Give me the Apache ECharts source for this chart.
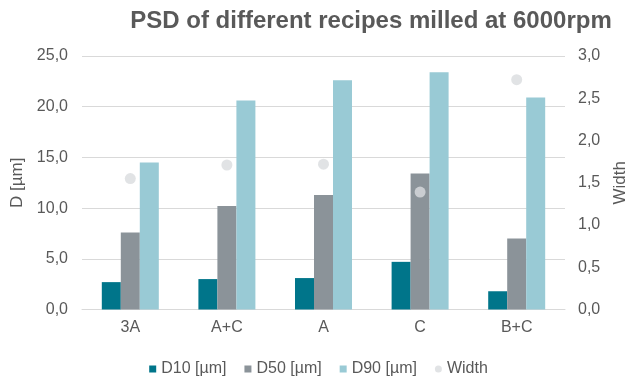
<!DOCTYPE html>
<html>
<head>
<meta charset="utf-8">
<script src="https://cdn.jsdelivr.net/npm/echarts@6/dist/echarts.min.js"></script>
<style>
  html, body { margin: 0; padding: 0; background: #fff; }
  #chart { width: 637px; height: 378px; }
</style>
</head>
<body>
<div id="chart"></div>
<script>
// Recipes milled at 6000 rpm
const categories = ['3A', 'A+C', 'A', 'C', 'B+C'];
const d10 = [2.7, 3.0, 3.1, 4.7, 1.8];
const d50 = [7.6, 10.2, 11.3, 13.4, 7.0];
const d90 = [14.5, 20.6, 22.6, 23.4, 20.9];
const width = [1.55, 1.71, 1.72, 1.39, 2.72];

const leftTicks = { min: 0, max: 25, interval: 5 };
const rightTicks = { min: 0, max: 3, interval: 0.5 };

const textColor = '#595959';
const fontFamily = '"Liberation Sans", Arial, sans-serif';
const comma = v => v.toFixed(1).replace('.', ',');

const chart = echarts.init(document.getElementById('chart'), null, { renderer: 'canvas' });

chart.setOption({
  animation: false,
  textStyle: { fontFamily: fontFamily },
  title: {
    text: 'PSD of different recipes milled at 6000rpm',
    left: 366,
    textAlign: 'center',
    top: 4,
    textStyle: { fontSize: 24, fontWeight: 'bold', color: textColor, fontFamily: fontFamily }
  },
  grid: { left: 82, right: 67, top: 56, bottom: 68.5 },
  legend: {
    top: 356,
    left: 'center',
    itemWidth: 7,
    itemHeight: 7,
    itemGap: 18,
    textStyle: { fontSize: 16, color: textColor, fontFamily: fontFamily },
    data: [
      { name: 'D10 [µm]', icon: 'rect' },
      { name: 'D50 [µm]', icon: 'rect' },
      { name: 'D90 [µm]', icon: 'rect' },
      { name: 'Width', icon: 'circle' }
    ]
  },
  xAxis: {
    type: 'category',
    data: categories,
    axisTick: { show: false },
    axisLine: { lineStyle: { color: '#D9D9D9', width: 1 } },
    axisLabel: { fontSize: 16, color: textColor, margin: 10 }
  },
  yAxis: [
    {
      type: 'value',
      min: leftTicks.min, max: leftTicks.max, interval: leftTicks.interval,
      name: 'D [µm]',
      nameLocation: 'middle',
      nameGap: 55,
      nameTextStyle: { fontSize: 17, color: textColor },
      axisLabel: { fontSize: 16, color: textColor, margin: 14, formatter: comma },
      splitLine: { lineStyle: { color: '#D9D9D9', width: 1 } },
      axisLine: { show: false },
      axisTick: { show: false }
    },
    {
      type: 'value',
      min: rightTicks.min, max: rightTicks.max, interval: rightTicks.interval,
      name: 'Width',
      nameLocation: 'middle',
      nameGap: 47,
      nameTextStyle: { fontSize: 17, color: textColor },
      axisLabel: { fontSize: 16, color: textColor, margin: 13, formatter: comma },
      splitLine: { show: false },
      axisLine: { show: false },
      axisTick: { show: false }
    }
  ],
  series: [
    { name: 'D10 [µm]', type: 'bar', data: d10, barWidth: 19, barGap: '0%', itemStyle: { color: '#00758A' } },
    { name: 'D50 [µm]', type: 'bar', data: d50, barWidth: 19, barGap: '0%', itemStyle: { color: '#8B9399' } },
    { name: 'D90 [µm]', type: 'bar', data: d90, barWidth: 19, barGap: '0%', itemStyle: { color: '#99CAD5' } },
    { name: 'Width', type: 'scatter', yAxisIndex: 1, data: width, symbol: 'circle', symbolSize: 11, itemStyle: { color: '#D9DCDF' } }
  ]
});
</script>
</body>
</html>
